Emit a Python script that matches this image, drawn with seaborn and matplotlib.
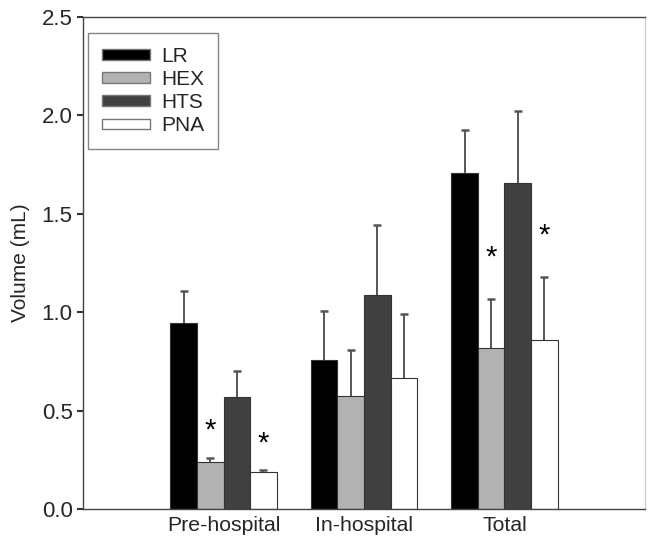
import matplotlib
matplotlib.use("Agg")
import matplotlib.pyplot as plt
import seaborn as sns
import pandas as pd
import numpy as np

categories = ["Pre-hospital", "In-hospital", "Total"]
groups = ["LR", "HEX", "HTS", "PNA"]
colors = ["#000000", "#b2b2b2", "#404040", "#ffffff"]

lr_mean = [0.947, 0.757, 1.707]
hex_mean = [0.237, 0.576, 0.816]
hts_mean = [0.569, 1.087, 1.658]
pna_mean = [0.188, 0.667, 0.860]

lr_upper = [1.109, 1.006, 1.924]
hex_upper = [0.258, 0.810, 1.067]
hts_upper = [0.700, 1.441, 2.022]
pna_upper = [0.197, 0.989, 1.180]

# asterisk positions (None = no marker)
hex_star = [0.40, None, 1.275]
pna_star = [0.33, None, 1.39]
lr_star = [None, None, None]
hts_star = [None, None, None]

means = {"LR": lr_mean, "HEX": hex_mean, "HTS": hts_mean, "PNA": pna_mean}
uppers = {"LR": lr_upper, "HEX": hex_upper, "HTS": hts_upper, "PNA": pna_upper}
stars = {"LR": lr_star, "HEX": hex_star, "HTS": hts_star, "PNA": pna_star}

rows = []
for g in groups:
    for c, m in zip(categories, means[g]):
        rows.append({"phase": c, "group": g, "volume": m})
df = pd.DataFrame(rows)

sns.set_style("ticks")
plt.rcParams["font.family"] = ["Liberation Sans", "DejaVu Sans"]

fig = plt.figure(figsize=(6.5, 5.39), dpi=100)
ax = fig.add_axes([0.1277, 0.0557, 0.8646, 0.9128])

sns.barplot(data=df, x="phase", y="volume", hue="group", order=categories,
            hue_order=groups, palette=colors, errorbar=None, width=0.756,
            edgecolor="#333333", linewidth=0.8, saturation=1, ax=ax, legend=True)

cap_half = 0.028
for container, g in zip(ax.containers, groups):
    xs = np.array([b.get_x() + b.get_width() / 2 for b in container])
    hs = np.array([b.get_height() for b in container])
    up = np.array(uppers[g])
    ax.vlines(xs, hs, up, colors="#555555", linewidth=1.4, zorder=1)
    ax.hlines(up, xs - cap_half, xs + cap_half, colors="#555555", linewidth=1.8, zorder=1)
    for x, s in zip(xs, stars[g]):
        if s is not None:
            ax.text(x, s, "*", ha="center", va="center", fontsize=21, color="black")

ax.set_xlim(-1, 3)
ax.set_ylim(0, 2.5)
ax.set_yticks([0.0, 0.5, 1.0, 1.5, 2.0, 2.5])
ax.set_yticklabels(["0.0", "0.5", "1.0", "1.5", "2.0", "2.5"])
ax.set_xlabel("")
ax.set_ylabel("Volume (mL)", fontsize=15, labelpad=8)
ax.tick_params(axis="y", labelsize=16, length=4, width=1.5, color="#333333", direction="out")
ax.tick_params(axis="x", labelsize=15.3, length=0, pad=5)
for sp in ax.spines.values():
    sp.set_visible(True)
    sp.set_color("#444444")
    sp.set_linewidth(1.0)
ax.spines["right"].set_color("#cccccc")

leg = ax.legend(loc="upper left", bbox_to_anchor=(0.009, 0.967), fontsize=15,
                handlelength=2.3, handleheight=0.4, handletextpad=0.55,
                labelspacing=0.2, borderpad=0.65, frameon=True, fancybox=False,
                borderaxespad=0)
leg.get_frame().set_edgecolor("#666666")
leg.get_frame().set_linewidth(1.0)
leg.get_frame().set_facecolor("white")
for h in leg.legend_handles:
    h.set_edgecolor("#777777")
    h.set_linewidth(1.0)

fig.savefig("out.png", dpi=100)
